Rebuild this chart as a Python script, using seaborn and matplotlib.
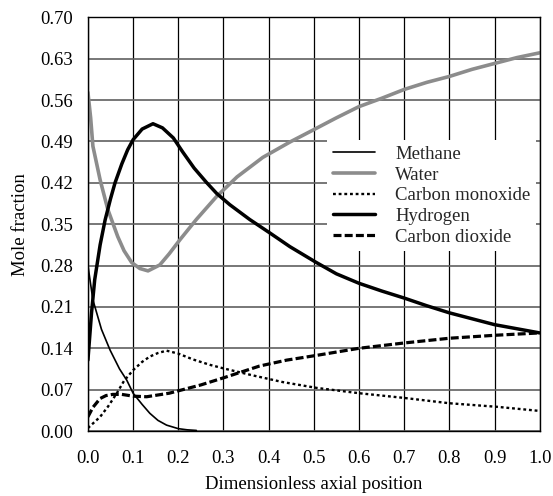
import numpy as np
import pandas as pd
import seaborn as sns
import matplotlib.pyplot as plt

sns.set_theme(style="white")
plt.rcParams["font.family"] = ["Liberation Serif", "DejaVu Serif"]

# Methane
x_ch4 = [0, 0.011, 0.03, 0.049, 0.07, 0.086, 0.1, 0.12, 0.137, 0.155, 0.174, 0.2, 0.22, 0.24]
y_ch4 = [0.28, 0.222, 0.172, 0.137, 0.105, 0.086, 0.064, 0.045, 0.03, 0.018, 0.01, 0.004, 0.002, 0.001]

# Water
x_h2o = [0, 0.006, 0.011, 0.02, 0.027, 0.044, 0.066, 0.08, 0.097, 0.115, 0.133, 0.159, 0.18,
         0.204, 0.24, 0.285, 0.33, 0.387, 0.447, 0.5, 0.55, 0.6, 0.65, 0.7, 0.75, 0.8,
         0.85, 0.9, 0.95, 1.0]
y_h2o = [0.573, 0.53, 0.482, 0.45, 0.425, 0.375, 0.329, 0.305, 0.285, 0.275, 0.271, 0.281, 0.30,
         0.324, 0.358, 0.397, 0.43, 0.463, 0.489, 0.51, 0.53, 0.549, 0.563, 0.578, 0.59,
         0.60, 0.612, 0.622, 0.632, 0.64]

# Carbon monoxide
x_co = [0, 0.027, 0.045, 0.064, 0.08, 0.1, 0.12, 0.137, 0.155, 0.174, 0.2, 0.233, 0.27, 0.30,
        0.36, 0.43, 0.506, 0.6, 0.7, 0.8, 0.905, 1.0]
y_co = [0.005, 0.024, 0.042, 0.064, 0.085, 0.103, 0.117, 0.126, 0.132, 0.136, 0.131, 0.121, 0.112,
        0.106, 0.095, 0.083, 0.073, 0.064, 0.056, 0.047, 0.041, 0.034]

# Hydrogen
x_h2 = [0, 0.008, 0.015, 0.027, 0.038, 0.05, 0.06, 0.075, 0.088, 0.1, 0.12, 0.144, 0.165,
        0.189, 0.21, 0.235, 0.262, 0.285, 0.314, 0.358, 0.403, 0.447, 0.506, 0.55, 0.6,
        0.65, 0.7, 0.75, 0.8, 0.85, 0.9, 0.95, 1.0]
y_h2 = [0.12, 0.2, 0.256, 0.315, 0.357, 0.393, 0.42, 0.452, 0.476, 0.493, 0.511, 0.52, 0.513,
        0.496, 0.472, 0.445, 0.421, 0.402, 0.383, 0.358, 0.335, 0.312, 0.285, 0.266, 0.25,
        0.237, 0.225, 0.212, 0.20, 0.19, 0.18, 0.173, 0.166]

# Carbon dioxide
x_co2 = [0, 0.011, 0.027, 0.04, 0.055, 0.075, 0.1, 0.13, 0.18, 0.25, 0.30, 0.38, 0.44, 0.506,
         0.6, 0.7, 0.8, 0.9, 1.0]
y_co2 = [0.024, 0.04, 0.055, 0.06, 0.062, 0.062, 0.059, 0.058, 0.064, 0.078, 0.09, 0.11, 0.12,
         0.128, 0.14, 0.149, 0.157, 0.162, 0.166]

x_ticks = [0.0, 0.1, 0.2, 0.3, 0.4, 0.5, 0.6, 0.7, 0.8, 0.9, 1.0]
y_ticks = [0.00, 0.07, 0.14, 0.21, 0.28, 0.35, 0.42, 0.49, 0.56, 0.63, 0.70]

series = [
    ("Methane", x_ch4, y_ch4, dict(color="black", lw=1.2, ls="-")),
    ("Water", x_h2o, y_h2o, dict(color="#8c8c8c", lw=2.6, ls="-")),
    ("Carbon monoxide", x_co, y_co, dict(color="black", lw=1.7, ls=(0, (1.2, 1.2)))),
    ("Hydrogen", x_h2, y_h2, dict(color="black", lw=2.5, ls="-")),
    ("Carbon dioxide", x_co2, y_co2, dict(color="black", lw=2.3, ls=(0, (2.5, 1.0)))),
]

fig = plt.figure(figsize=(5.53, 4.96), dpi=100)
ax = fig.add_axes([0.159, 0.131, 0.817, 0.834])

for name, xs, ys, st in series:
    df = pd.DataFrame({"x": xs, "y": ys})
    sns.lineplot(data=df, x="x", y="y", ax=ax, label=name, estimator=None,
                 color=st["color"], linewidth=st["lw"], linestyle=st["ls"])

ax.set_xlim(0, 1.0)
ax.set_ylim(0, 0.70)
ax.set_xticks(x_ticks)
ax.set_yticks(y_ticks)
ax.set_xticklabels([f"{v:.1f}" for v in x_ticks])
ax.set_yticklabels([f"{v:.2f}" for v in y_ticks])
ax.xaxis.grid(True, color="black", lw=0.9)
ax.yaxis.grid(True, color="#606060", lw=1.2)
ax.set_axisbelow(True)
for s in ax.spines.values():
    s.set_color("black")
    s.set_linewidth(1.0)
ax.tick_params(axis="both", direction="out", length=5, width=1, color="black",
               labelsize=13.4, labelcolor="black")
ax.tick_params(axis="x", pad=9)
ax.tick_params(axis="y", pad=6)
ax.set_xlabel("Dimensionless axial position", fontsize=13.5, color="black", labelpad=6)
ax.set_ylabel("Mole fraction", fontsize=13.5, color="black", labelpad=8)

leg = ax.legend(loc="upper left", bbox_to_anchor=(0.529, 0.703), fontsize=13.5,
                frameon=True, facecolor="white", edgecolor="none", framealpha=1,
                handlelength=2.24, handletextpad=1.1, labelspacing=0.19,
                borderpad=0.3, borderaxespad=0, fancybox=False)

fig.savefig("out.png", dpi=100)
